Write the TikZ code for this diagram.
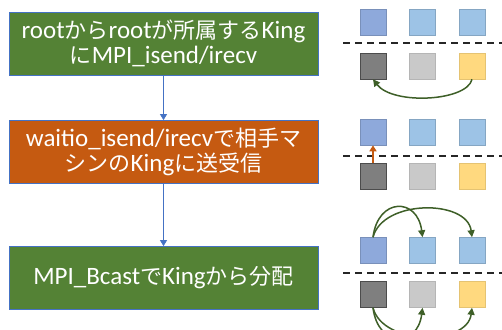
\documentclass[tikz,border=0pt]{standalone}
\usepackage{fontspec}
\setmainfont{Carlito}
\newfontfamily\jp{Noto Sans CJK JP}[Scale=0.88]
\usetikzlibrary{arrows.meta,calc}
\definecolor{stepgreen}{HTML}{548235}
\definecolor{steporange}{HTML}{C55A11}
\definecolor{edgeblue}{HTML}{4472C4}
\definecolor{arcgreen}{HTML}{3E5F28}
\definecolor{blueA}{HTML}{8EA9DB}
\definecolor{blueB}{HTML}{9DC3E6}
\definecolor{grayA}{HTML}{7F7F7F}
\definecolor{grayB}{HTML}{C9C9C9}
\definecolor{goldA}{HTML}{FFD97F}
\tikzset{
  stepbox/.style={draw=edgeblue, line width=0.8pt, minimum width=309pt, minimum height=63pt,
    inner sep=0pt, text=white, align=center, font=\fontsize{25}{25}\selectfont},
  flow/.style={draw=edgeblue, line width=0.8pt, -{Triangle[length=6pt,width=7pt]}},
  cell/.style={minimum size=26pt, inner sep=0pt, line width=0.6pt},
  cellblueA/.style={cell, fill=blueA, draw=blueA!85!black},
  cellblueB/.style={cell, fill=blueB, draw=blueB!85!black},
  cellgrayA/.style={cell, fill=grayA, draw=grayA!60!black},
  cellgrayB/.style={cell, fill=grayB, draw=grayB!90!black},
  cellgold/.style={cell, fill=goldA, draw=goldA!90!black},
  sep/.style={dashed, dash pattern=on 7pt off 5pt, line width=1.5pt, black!85},
  arc/.style={draw=arcgreen, line width=1.5pt, -{Triangle[length=7pt,width=7pt]}},
}
\begin{document}
\begin{tikzpicture}[x=1pt,y=-1pt]
\useasboundingbox (0,0) rectangle (502,329);

% flow of the three steps
\node[stepbox, fill=stepgreen] (s1) at (163.5,43.5)
  {root{\jp から}root{\jp が所属する}King\\{\jp に}MPI\_isend/irecv};
\node[stepbox, fill=steporange] (s2) at (163.5,152)
  {waitio\_isend/irecv{\jp で相手マ}\\{\jp シンの}King{\jp に送受信}};
\node[stepbox, fill=stepgreen] (s3) at (163.5,278)
  {MPI\_Bcast{\jp で}King{\jp から分配}};
\draw[flow] (s1.south) -- (s2.north);
\draw[flow] (s2.south) -- (s3.north);

% stage 1
\node[cellblueA] (a1) at (373,22) {};
\node[cellblueB] (a2) at (422.5,22) {};
\node[cellblueB] (a3) at (472,22) {};
\node[cellgrayA] (b1) at (373,66) {};
\node[cellgrayB] (b2) at (422.5,66) {};
\node[cellgold]  (b3) at (472,66) {};
\coordinate (d1l) at (343,43);
\coordinate (d1r) at (502,43);
\draw[sep] (d1l) -- (d1r);
\draw[arc] (b3.south) .. controls ($(b3.south)+(-5,22)$) and ($(b1.south)+(20,26)$) .. (b1.south);

% stage 2
\node[cellblueA] (c1) at (373,132) {};
\node[cellblueB] (c2) at (422.5,132) {};
\node[cellblueB] (c3) at (472,132) {};
\node[cellgrayA] (e1) at (373,176) {};
\node[cellgrayB] (e2) at (422.5,176) {};
\node[cellgold]  (e3) at (472,176) {};
\coordinate (d2l) at (343,156);
\coordinate (d2r) at (502,156);
\draw[sep] (d2l) -- (d2r);
\draw[draw=steporange, line width=1.5pt, -{Triangle[length=6pt,width=7pt]}] (e1.north) -- (c1.south);

% stage 3
\node[cellblueA] (f1) at (373,250.5) {};
\node[cellblueB] (f2) at (422.5,250.5) {};
\node[cellblueB] (f3) at (472,250.5) {};
\node[cellgrayA] (g1) at (373,294.5) {};
\node[cellgrayB] (g2) at (422.5,294.5) {};
\node[cellgold]  (g3) at (472,294.5) {};
\coordinate (d3l) at (343,273);
\coordinate (d3r) at (502,273);
\draw[sep] (d3l) -- (d3r);
\draw[arc] (f1.north) .. controls ($(f1.north)+(5,-40)$) and ($(f2.north)+(-5,-40)$) .. (f2.north);
\draw[arc] (f1.north) .. controls ($(f1.north)+(10,-38)$) and ($(f3.north)+(-5,-38)$) .. (f3.north);
\draw[arc] (g1.south) .. controls ($(g1.south)+(5,40)$) and ($(g2.south)+(-5,40)$) .. (g2.south);
\draw[arc] (g1.south) .. controls ($(g1.south)+(10,38)$) and ($(g3.south)+(-5,38)$) .. (g3.south);
\end{tikzpicture}
\end{document}
